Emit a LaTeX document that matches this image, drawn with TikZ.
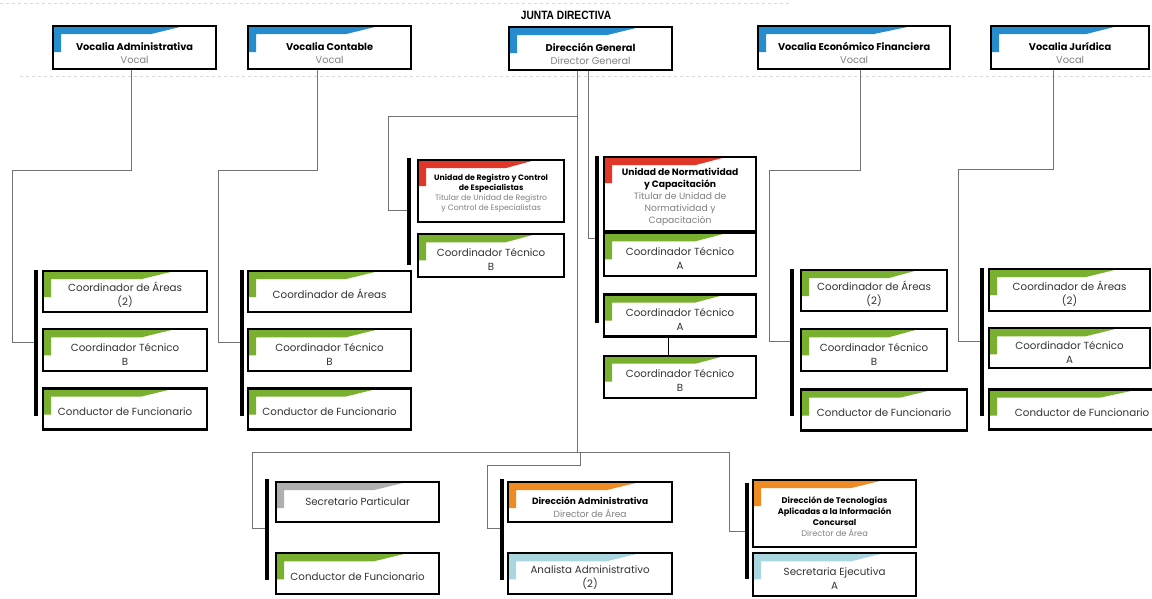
\documentclass[tikz,border=0pt]{standalone}
\usepackage{xcolor}
\usepackage{fontspec}
\setmainfont{Poppins}
\newfontfamily\titulo{Liberation Sans}[FakeStretch=0.85]
\usepackage{tikz}
\usetikzlibrary{positioning}
\usetikzlibrary{calc}
\definecolor{azul}{RGB}{38,140,205}
\definecolor{verde}{RGB}{122,176,48}
\definecolor{rojo}{RGB}{225,55,40}
\definecolor{naranja}{RGB}{238,140,35}
\definecolor{gris}{RGB}{175,175,175}
\definecolor{celeste}{RGB}{170,214,224}
\newcommand{\puesto}[1]{{\color{black!50}#1}}
\newcommand{\hueco}[1]{\rule{0pt}{#1}}
\tikzset{linea/.style = {draw=black!55, line width=0.6pt}}
\tikzset{barra/.style = {line width=4pt}}
\tikzset{banda/.style = {path picture={
  \fill[#1] (path picture bounding box.north west)
    -- ($(path picture bounding box.north west)!0.8!(path picture bounding box.north east)$)
    -- ($(path picture bounding box.north west)!0.6!(path picture bounding box.north east)+(0,-8pt)$)
    -- ([shift={(8pt,-8pt)}]path picture bounding box.north west)
    -- ([shift={(8pt,-26pt)}]path picture bounding box.north west)
    -- ([yshift=-26pt]path picture bounding box.north west) -- cycle;}}}

\begin{document}
\begin{tikzpicture}[x=1pt,y=-1pt,
  cargo/.style={draw,line width=2.2pt,fill=white,align=center,anchor=north west,inner sep=1pt,text=black!80,font=\fontsize{10.3}{14}\selectfont},
  medida/.style 2 args={minimum width=#1,minimum height=#2},
  jefe/.style={text=black,font=\fontsize{9.8}{13}\selectfont}]
\useasboundingbox (0,0) rectangle (1152,598);
\draw[black!15,dashed] (0,3) -- (790,3);
\draw[black!15,dashed] (20,76) -- (1152,76);

\node[font=\titulo\bfseries\fontsize{12}{12}\selectfont] (junta) at (566,15) {JUNTA DIRECTIVA};

\node[cargo,jefe,banda=azul,medida={163pt}{43pt}] (va) at (52,25) {\hueco{18pt}\textbf{Vocalia Administrativa}\\\puesto{Vocal}};
\node[cargo,jefe,banda=azul,medida={163pt}{43pt}] (vc) at (247,25) {\hueco{18pt}\textbf{Vocalia Contable}\\\puesto{Vocal}};
\node[cargo,jefe,banda=azul,medida={163pt}{43pt}] (dg) at (508,26) {\hueco{18pt}\textbf{Dirección General}\\\puesto{Director General}};
\node[cargo,jefe,banda=azul,medida={192pt}{43pt}] (vef) at (757,25) {\hueco{18pt}\textbf{Vocalia Económico Financiera}\\\puesto{Vocal}};
\node[cargo,jefe,banda=azul,medida={158pt}{43pt}] (vj) at (990,25) {\hueco{18pt}\textbf{Vocalia Jurídica}\\\puesto{Vocal}};

\node[cargo,banda=verde,medida={164pt}{41pt}] (ca1) at (42,270) {\hueco{16pt}Coordinador de Áreas\\(2)};
\node[cargo,banda=verde,medida={164pt}{42pt},below=15pt of ca1.south west,anchor=north west] (ct1) {\hueco{16pt}Coordinador Técnico\\B};
\node[cargo,banda=verde,medida={164pt}{41pt},below=15pt of ct1.south west,anchor=north west] (cf1) {\hueco{14pt}Conductor de Funcionario};

\node[cargo,banda=verde,medida={163pt}{41pt}] (ca2) at (247,270) {\hueco{14pt}Coordinador de Áreas};
\node[cargo,banda=verde,medida={163pt}{42pt},below=15pt of ca2.south west,anchor=north west] (ct2) {\hueco{16pt}Coordinador Técnico\\B};
\node[cargo,banda=verde,medida={163pt}{41pt},below=15pt of ct2.south west,anchor=north west] (cf2) {\hueco{14pt}Conductor de Funcionario};

\node[cargo,banda=rojo,medida={146pt}{62pt},font=\fontsize{7.8}{10}\selectfont] (ur) at (417,159) {\hueco{10pt}\textcolor{black}{\textbf{Unidad de Registro y Control}}\\\textcolor{black}{\textbf{de Especialistas}}\\\puesto{Titular de Unidad de Registro}\\\puesto{y Control de Especialistas}};
\node[cargo,banda=verde,medida={146pt}{43pt},below=10pt of ur.south west,anchor=north west] (ctr) {\hueco{16pt}Coordinador Técnico\\B};

\node[cargo,banda=rojo,medida={152pt}{74pt},font=\fontsize{9.2}{12}\selectfont] (un) at (603,156) {\hueco{14pt}\textcolor{black}{\textbf{Unidad de Normatividad}}\\\textcolor{black}{\textbf{y Capacitación}}\\\puesto{Titular de Unidad de}\\\puesto{Normatividad y}\\\puesto{Capacitación}};
\node[cargo,banda=verde,medida={152pt}{43pt},below=0pt of un.south west,anchor=north west] (cta1) {\hueco{16pt}Coordinador Técnico\\A};
\node[cargo,banda=verde,medida={152pt}{42pt},below=16pt of cta1.south west,anchor=north west] (cta2) {\hueco{16pt}Coordinador Técnico\\A};
\node[cargo,banda=verde,medida={152pt}{42pt},below=17pt of cta2.south west,anchor=north west] (ctb3) {\hueco{16pt}Coordinador Técnico\\B};

\node[cargo,banda=verde,medida={146pt}{41pt}] (ca5) at (800,269) {\hueco{16pt}Coordinador de Áreas\\(2)};
\node[cargo,banda=verde,medida={146pt}{42pt},below=16pt of ca5.south west,anchor=north west] (ct5) {\hueco{16pt}Coordinador Técnico\\B};
\node[cargo,banda=verde,medida={166pt}{41pt},below=16pt of ct5.south west,anchor=north west] (cf5) {\hueco{14pt}Conductor de Funcionario};

\node[cargo,banda=verde,medida={161pt}{42pt}] (ca6) at (988,268) {\hueco{16pt}Coordinador de Áreas\\(2)};
\node[cargo,banda=verde,medida={161pt}{40pt},below=15pt of ca6.south west,anchor=north west] (ct6) {\hueco{16pt}Coordinador Técnico\\A};
\node[cargo,banda=verde,medida={186pt}{40pt},below=19pt of ct6.south west,anchor=north west] (cf6) {\hueco{14pt}Conductor de Funcionario};

\node[cargo,banda=gris,medida={163pt}{40pt}] (sp) at (275,481) {Secretario Particular};
\node[cargo,banda=verde,medida={163pt}{41pt},below=29pt of sp.south west,anchor=north west] (cfb) {\hueco{14pt}Conductor de Funcionario};
\node[cargo,jefe,banda=naranja,medida={164pt}{40pt},font=\fontsize{9}{13}\selectfont] (da) at (507,481) {\hueco{17pt}\textbf{Dirección Administrativa}\\\puesto{Director de Área}};
\node[cargo,banda=celeste,medida={164pt}{41pt},below=29pt of da.south west,anchor=north west] (aa) {\hueco{16pt}Analista Administrativo\\(2)};
\node[cargo,banda=naranja,medida={163pt}{67pt},font=\fontsize{8.2}{11}\selectfont] (dt) at (752,479) {\hueco{12pt}\textcolor{black}{\textbf{Dirección de Tecnologías}}\\\textcolor{black}{\textbf{Aplicadas a la Información}}\\\textcolor{black}{\textbf{Concursal}}\\\puesto{Director de Área}};
\node[cargo,banda=celeste,medida={163pt}{43pt},below=4pt of dt.south west,anchor=north west] (se) {\hueco{16pt}Secretaria Ejecutiva\\A};

\coordinate (b1) at ([xshift=-6pt,yshift=8pt]ct1.west);
\coordinate (b2) at ([xshift=-5pt,yshift=8pt]ct2.west);
\coordinate (b3) at ([xshift=-8pt,yshift=-19pt]ur.west);
\coordinate (b4) at ([xshift=-6pt,yshift=17pt]cta1.west);
\coordinate (b5) at ([xshift=-8pt,yshift=9pt]ct5.west);
\coordinate (b6) at ([xshift=-6pt,yshift=7pt]ct6.west);
\coordinate (b7) at ([xshift=-8pt,yshift=-26pt]sp.west);
\coordinate (b8) at ([xshift=-5pt,yshift=-26pt]da.west);
\coordinate (b9) at ([xshift=-5pt,yshift=-18pt]dt.west);

\draw[linea] ([xshift=-3.5pt]va.south) -- ++(0,100) -| ([xshift=-24pt]b1) -- (b1);
\draw[linea] ([xshift=-12.5pt]vc.south) -- ++(0,100) -| ([xshift=-24pt]b2) -- (b2);
\draw[linea] ([xshift=6pt]vef.south) -- ++(0,100) -| ([xshift=-23pt]b5) -- (b5);
\draw[linea] ([xshift=-17pt]vj.south) -- ++(0,99) -| ([xshift=-24pt]b6) -- (b6);
\draw[linea] ([xshift=-13.5pt]dg.south) -- ++(0,45) -| ([xshift=-21pt]b3) -- (b3);
\draw[linea] ([xshift=-2.5pt]dg.south) |- (b4);
\draw[linea] ([xshift=-13.5pt]dg.south) -- ++(0,381) coordinate (tronco);
\draw[linea] (tronco) -| ([xshift=-15pt]b7) -- (b7);
\draw[linea] (tronco) -| ([xshift=-18pt]b9) -- (b9);
\draw[linea] ([xshift=3pt]tronco) -- ++(0,13) -| ([xshift=-15pt]b8) -- (b8);
\draw[thin] ([xshift=-12pt]cta2.south) -- ([xshift=-12pt]ctb3.north);

\draw[barra] ([xshift=-6pt]ca1.north west) -- ([xshift=-6pt,yshift=15pt]cf1.south west);
\draw[barra] ([xshift=-5pt]ca2.north west) -- ([xshift=-5pt,yshift=15pt]cf2.south west);
\draw[barra] ([xshift=-8pt,yshift=1pt]ur.north west) -- ([xshift=-8pt,yshift=13pt]ctr.south west);
\draw[barra] ([xshift=-6pt]un.north west) -- ([xshift=-6pt,yshift=15pt]cta2.south west);
\draw[barra] ([xshift=-8pt]ca5.north west) -- ([xshift=-8pt,yshift=16pt]cf5.south west);
\draw[barra] ([xshift=-6pt]ca6.north west) -- ([xshift=-6pt,yshift=15pt]cf6.south west);
\draw[barra] ([xshift=-8pt,yshift=2pt]sp.north west) -- ([xshift=-8pt,yshift=15pt]cfb.south west);
\draw[barra] ([xshift=-5pt,yshift=2pt]da.north west) -- ([xshift=-5pt,yshift=15pt]aa.south west);
\draw[barra] ([xshift=-5pt,yshift=-4pt]dt.north west) -- ([xshift=-5pt,yshift=18pt]se.south west);
\end{tikzpicture}
\end{document}
